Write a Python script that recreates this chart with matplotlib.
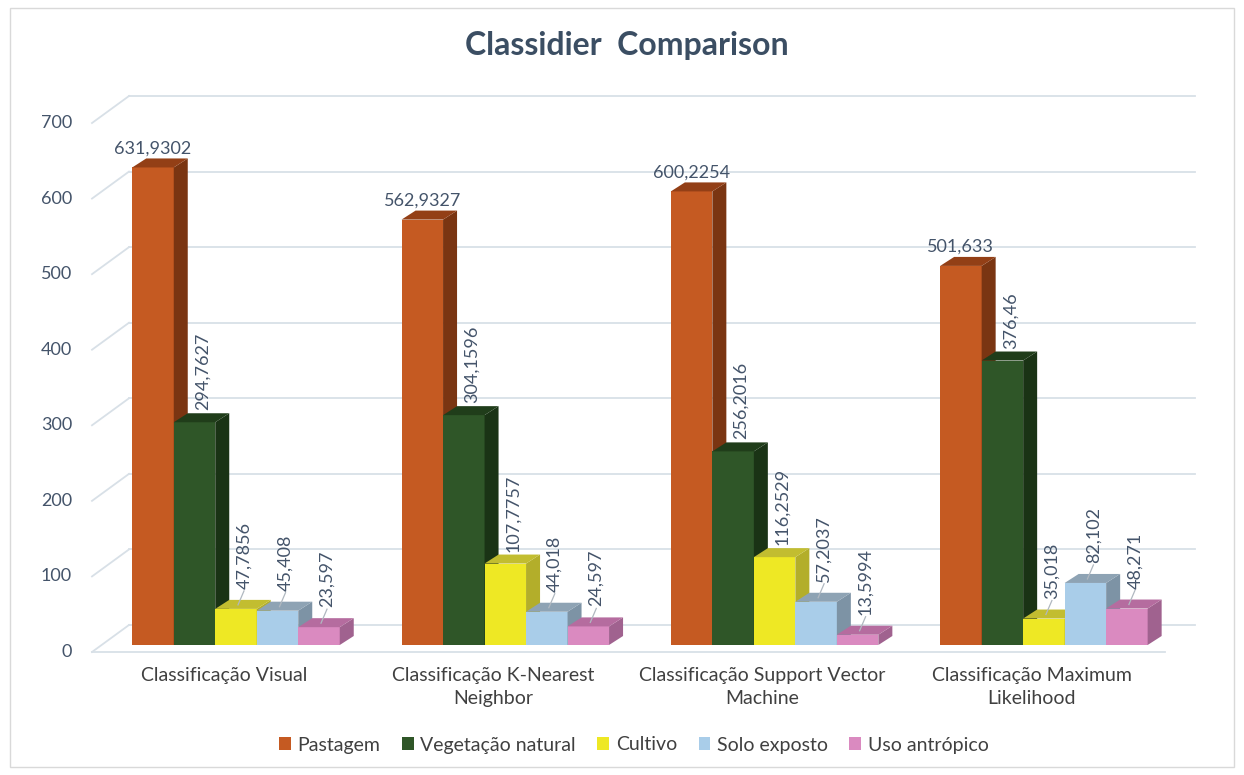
import matplotlib.pyplot as plt
from matplotlib.patches import Polygon, Patch, Rectangle

plt.rcParams['font.family'] = ['Lato', 'DejaVu Sans']

# data
categories = ["Classificação Visual",
              "Classificação K-Nearest\nNeighbor",
              "Classificação Support Vector\nMachine",
              "Classificação Maximum\nLikelihood"]
series = ["Pastagem", "Vegetação natural", "Cultivo", "Solo exposto", "Uso antrópico"]
pastagem = [631.9302, 562.9327, 600.2254, 501.633]
vegetacao = [294.7627, 304.1596, 256.2016, 376.46]
cultivo = [47.7856, 107.7757, 116.2529, 35.018]
solo_exposto = [45.408, 44.018, 57.2037, 82.102]
uso_antropico = [23.597, 24.597, 13.5994, 48.271]
yticks = [0, 100, 200, 300, 400, 500, 600, 700]

values = [pastagem, vegetacao, cultivo, solo_exposto, uso_antropico]
front_colors = ['#c55a22', '#2f5628', '#eee824', '#a9cde9', '#da8ac0']
side_colors = ['#7a3512', '#1a3315', '#b3ae2a', '#7d93a5', '#a0628f']
top_colors = ['#933f16', '#203d1a', '#c2bd30', '#8ea3b4', '#b56c9f']

# layout (pixels of the 1244x775 canvas)
W, H = 1244, 775
PXX = 269.3      # px per group
PXY = 0.7557     # px per value unit
X0, Y0 = 236, 645

fig = plt.figure(figsize=(W / 100, H / 100), dpi=100)
ax = fig.add_axes([0, 0, 1, 1])
ax.set_xlim(-X0 / PXX, (W - X0) / PXX)
ax.set_ylim((Y0 - H) / PXY, Y0 / PXY)
ax.axis('off')


def off(dx, dy):
    # pixel offset (dy positive = downwards) -> data offset
    return dx / PXX, -dy / PXY


grid_c = '#d8e0e7'
label_c = '#44546a'
bw = 41.5 / PXX
ddx, ddy = off(14, -9)          # bar depth
fpx, fpy = off(-12, 7)          # front plane of the box
wdx, wdy = off(37, -27)         # side wall depth
xl = (92 - X0) / PXX            # front left edge
xr_back = (1195 - X0) / PXX
xr_front = (1165 - X0) / PXX

# walls: side wall slants, back wall gridlines, floor edge
for v in yticks:
    y = v + fpy
    ax.plot([xl, xl + wdx], [y, y + wdy], color=grid_c, lw=1.3, zorder=1)
    ax.plot([xl + wdx, xr_back], [y + wdy, y + wdy], color=grid_c, lw=1.3, zorder=1)
    ax.text(xl + off(-20, 0)[0], y, str(v), ha='right', va='center',
            fontsize=13, color=label_c)
ax.plot([xl, xr_front], [fpy, fpy], color=grid_c, lw=1.3, zorder=1)

# 3d-style bars
for j, vals in enumerate(values):
    for i, v in enumerate(vals):
        x = i + (j - 2) * bw
        z = 3 + j
        ax.bar(x, v, bw, color=front_colors[j], lw=0, zorder=z)
        r = x + bw / 2
        l = x - bw / 2
        ax.add_patch(Polygon([(r, 0), (r + ddx, ddy), (r + ddx, v + ddy), (r, v)],
                             closed=True, color=side_colors[j], lw=0, zorder=z))
        ax.add_patch(Polygon([(l, v), (r, v), (r + ddx, v + ddy), (l + ddx, v + ddy)],
                             closed=True, color=top_colors[j], lw=0, zorder=z))
        txt = str(v).replace('.', ',')
        if j == 0:
            ax.text(x, v + off(0, -11)[1], txt, ha='center', va='bottom',
                    fontsize=13, color=label_c, zorder=10)
        else:
            gap = 20 if v < 100 else 12
            lx = x + off(8, 0)[0]
            ax.text(lx, v + off(0, -gap)[1], txt, rotation=90, ha='center',
                    va='bottom', fontsize=13, color=label_c, zorder=10)
            if v < 100:
                ax.plot([x + off(2, 0)[0], lx], [v + off(0, -4)[1], v + off(0, -gap + 2)[1]],
                        color='#b0b8c0', lw=0.9, zorder=10)

# category labels
for i, name in enumerate(categories):
    ax.text(i + fpx, off(0, 22)[1], name, ha='center', va='top',
            fontsize=14, color='#404040', linespacing=1.4)

fig.text(0.504, 1 - 45 / H, "Classidier  Comparison", ha='center', va='center',
         fontsize=23, fontweight='bold', color='#3b4e63')

handles = [Patch(color=c, lw=0) for c in front_colors]
fig.legend(handles, series, loc='center', bbox_to_anchor=(0.5096, 1 - 745 / H),
           ncol=5, frameon=False, fontsize=14, handlelength=0.6, handleheight=0.6,
           handletextpad=0.35, columnspacing=1.1, labelcolor='#404040')

fig.patches.append(Rectangle((10 / W, 8 / H), 1 - 20 / W, 1 - 16 / H,
                             transform=fig.transFigure, fill=False,
                             edgecolor='#d9d9d9', lw=1))

fig.savefig('out.png', dpi=100, facecolor='white')
